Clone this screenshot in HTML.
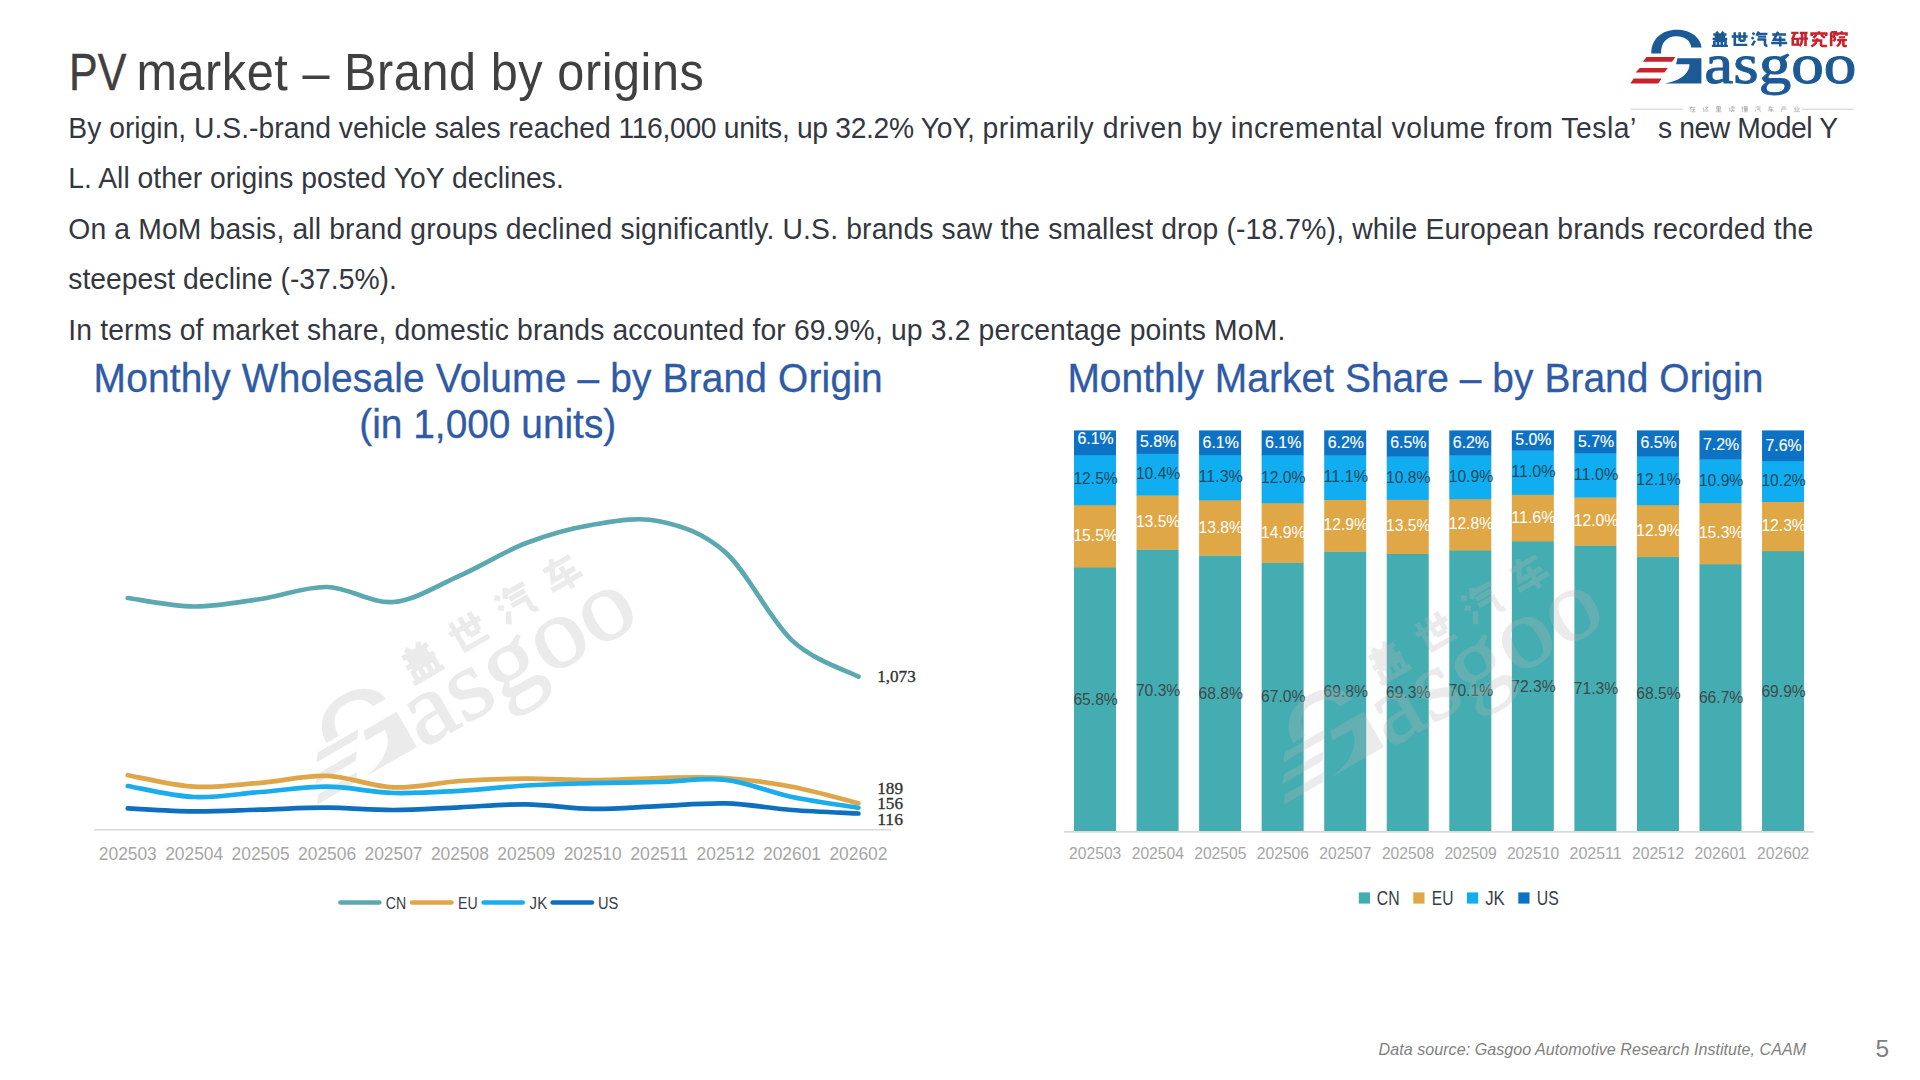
<!DOCTYPE html>
<html lang="en">
<head>
<meta charset="utf-8">
<title>PV market – Brand by origins</title>
<style>
html,body{margin:0;padding:0;background:#fff;}
body{width:1920px;height:1080px;position:relative;overflow:hidden;font-family:"Liberation Sans", sans-serif;}
.t{position:absolute;margin:0;padding:0;white-space:nowrap;line-height:1;font-weight:normal;}
svg{position:absolute;left:0;top:0;}
</style>
</head>
<body>
<svg id="art" width="1920" height="1080" viewBox="0 0 1920 1080">
<defs><symbol id="garc" overflow="visible"><path d="M31.3,33.4 C31.3,19 42,9.8 56.5,9.8 C70.5,9.8 80.6,17.5 81.6,27.4 L71.2,27.4 C70.6,20.6 64.6,16.3 56.2,16.3 C46.5,16.3 41,23 41,33.4 Z"/></symbol><symbol id="gbody" overflow="visible"><path d="M57.5,38.3 L81.4,38.3 L81.4,63.4 L44.9,63.4 C56,62 69.5,55.5 69.5,44.3 L56,44.3 Z"/></symbol><symbol id="stripes" overflow="visible"><path d="M26.6,37.1 L55.4,37.1 L52.1,41.7 L22.8,41.7 Z M19.8,47.9 L47.8,47.9 L44.4,52.5 L15.6,52.5 Z M13.6,58.6 L41.6,58.6 L38.3,63.4 L10.4,63.4 Z"/></symbol></defs>
<!-- logo -->
<g transform="translate(1620,20)"><use href="#garc" fill="#1c5a96"/><use href="#gbody" fill="#1c5a96"/><use href="#stripes" fill="#c8222b"/><text x="84.3" y="63.4" font-family='"Liberation Serif", serif' font-size="58" fill="#1c5a96" stroke="#1c5a96" stroke-width="1.0" textLength="152.2" lengthAdjust="spacingAndGlyphs">asgoo</text><g color="#1c5a96"><path transform="translate(91.20,11.00) scale(0.1740,0.1580)" d="M30,4L38,17M70,4L62,17M12,22H88M20,36H80M8,50H92M50,22V50M18,62H82V92M18,62V92M39,62V92M61,62V92M4,94H96" fill="none" stroke="currentColor" stroke-width="15" stroke-linecap="butt" stroke-linejoin="miter"/><path transform="translate(110.95,11.00) scale(0.1740,0.1580)" d="M4,35H96M22,8V88H94M50,8V62M78,8V62M50,62H78" fill="none" stroke="currentColor" stroke-width="15" stroke-linecap="butt" stroke-linejoin="miter"/><path transform="translate(130.70,11.00) scale(0.1740,0.1580)" d="M10,12L22,22M5,40L17,50M8,92L24,62M47,4L33,30M42,18H96M42,36H88M38,54H82V82Q82,93 96,93" fill="none" stroke="currentColor" stroke-width="15" stroke-linecap="butt" stroke-linejoin="miter"/><path transform="translate(150.45,11.00) scale(0.1740,0.1580)" d="M10,22H90M44,4L20,55H86M4,76H96M56,34V98" fill="none" stroke="currentColor" stroke-width="15" stroke-linecap="butt" stroke-linejoin="miter"/></g><g color="#c8222b"><path transform="translate(170.70,11.00) scale(0.1740,0.1580)" d="M3,12H45M25,12L8,55M12,50H40V86H12ZM52,12H97M48,48H99M65,12V60Q63,85 50,96M85,12V97" fill="none" stroke="currentColor" stroke-width="15" stroke-linecap="butt" stroke-linejoin="miter"/><path transform="translate(190.25,11.00) scale(0.1740,0.1580)" d="M50,2V12M8,32V16H92V32M36,24L18,44M62,24L84,44M10,60H62V86Q62,95 75,95H96M40,46Q40,80 6,97" fill="none" stroke="currentColor" stroke-width="15" stroke-linecap="butt" stroke-linejoin="miter"/><path transform="translate(209.80,11.00) scale(0.1740,0.1580)" d="M8,8V97M8,8H32L22,35Q38,50 20,64M68,2V12M42,30V16H96V30M52,40H88M42,58H98M60,58Q60,85 40,96M78,58V88Q78,95 88,95H98" fill="none" stroke="currentColor" stroke-width="15" stroke-linecap="butt" stroke-linejoin="miter"/></g><path d="M10.4,89.2H62.5M181.6,89.2H233.7" stroke="#c9c9c9" stroke-width="0.9" fill="none"/><g color="#9c9c9c"><path transform="translate(69.20,85.90) scale(0.0660,0.0640)" d="M5,25H95M40,5L10,60M25,45V95M45,55H90M67,40V90M40,92H95" fill="none" stroke="currentColor" stroke-width="9" stroke-linecap="butt" stroke-linejoin="miter"/><path transform="translate(82.25,85.90) scale(0.0660,0.0640)" d="M10,10L22,22M5,40H22V75M5,95Q15,80 25,80H95M40,22H92M80,22L45,70M52,35L88,70M62,5V15" fill="none" stroke="currentColor" stroke-width="9" stroke-linecap="butt" stroke-linejoin="miter"/><path transform="translate(95.30,85.90) scale(0.0660,0.0640)" d="M20,10H80V50H20ZM20,30H80M50,10V92M15,70H85M5,92H95" fill="none" stroke="currentColor" stroke-width="9" stroke-linecap="butt" stroke-linejoin="miter"/><path transform="translate(108.35,85.90) scale(0.0660,0.0640)" d="M8,12L20,22M5,40H22V85L30,75M40,15H92M65,5V28M38,30H95L88,42M50,45L58,52M48,58L56,65M35,72H95M68,40V72M65,72L40,95M70,78L95,95" fill="none" stroke="currentColor" stroke-width="9" stroke-linecap="butt" stroke-linejoin="miter"/><path transform="translate(121.40,85.90) scale(0.0660,0.0640)" d="M15,5V95M5,30L10,45M25,25L30,38M38,15H95M52,5V25M80,5V25M45,32H90V60H45ZM45,46H90M68,25V85M40,72H95M35,92H98" fill="none" stroke="currentColor" stroke-width="9" stroke-linecap="butt" stroke-linejoin="miter"/><path transform="translate(134.45,85.90) scale(0.0660,0.0640)" d="M10,12L22,22M5,40L17,50M8,92L24,62M47,4L33,30M42,18H96M42,36H88M38,54H82V82Q82,93 96,93" fill="none" stroke="currentColor" stroke-width="9" stroke-linecap="butt" stroke-linejoin="miter"/><path transform="translate(147.50,85.90) scale(0.0660,0.0640)" d="M10,22H90M44,4L20,55H86M4,76H96M56,34V98" fill="none" stroke="currentColor" stroke-width="9" stroke-linecap="butt" stroke-linejoin="miter"/><path transform="translate(160.55,85.90) scale(0.0660,0.0640)" d="M50,2V12M15,18H85M32,28L40,42M68,28L60,42M10,48H92M22,48Q22,80 5,95" fill="none" stroke="currentColor" stroke-width="9" stroke-linecap="butt" stroke-linejoin="miter"/><path transform="translate(173.60,85.90) scale(0.0660,0.0640)" d="M35,8V85M65,8V85M12,30L25,65M88,30L75,65M5,90H95" fill="none" stroke="currentColor" stroke-width="9" stroke-linecap="butt" stroke-linejoin="miter"/></g></g>
<!-- left chart: monthly wholesale volume -->
<g transform="translate(317.4,804.4) rotate(-30) scale(1.62)" fill="#ebebeb" color="#ebebeb" opacity="1"><g transform="translate(-10.4,-63.4)"><use href="#garc" transform="translate(57,33.4) scale(0.9,0.88) translate(-56.5,-33.4)"/><use href="#gbody"/><use href="#stripes" transform="translate(0,63.4) scale(1,1.05) translate(0,-63.4)"/><text x="83.6" y="66.2" font-family='"Liberation Serif", serif' font-size="62" stroke="#ebebeb" stroke-width="0.8" textLength="157" lengthAdjust="spacingAndGlyphs">asgoo</text><path transform="translate(98.10,6.60) scale(0.2350,0.2350)" d="M30,4L38,17M70,4L62,17M12,22H88M20,36H80M8,50H92M50,22V50M18,62H82V92M18,62V92M39,62V92M61,62V92M4,94H96" fill="none" stroke="currentColor" stroke-width="14" stroke-linecap="butt" stroke-linejoin="miter"/><path transform="translate(132.30,5.60) scale(0.2350,0.2350)" d="M4,35H96M22,8V88H94M50,8V62M78,8V62M50,62H78" fill="none" stroke="currentColor" stroke-width="14" stroke-linecap="butt" stroke-linejoin="miter"/><path transform="translate(166.50,4.60) scale(0.2350,0.2350)" d="M10,12L22,22M5,40L17,50M8,92L24,62M47,4L33,30M42,18H96M42,36H88M38,54H82V82Q82,93 96,93" fill="none" stroke="currentColor" stroke-width="14" stroke-linecap="butt" stroke-linejoin="miter"/><path transform="translate(200.70,3.60) scale(0.2350,0.2350)" d="M10,22H90M44,4L20,55H86M4,76H96M56,34V98" fill="none" stroke="currentColor" stroke-width="14" stroke-linecap="butt" stroke-linejoin="miter"/></g></g>
<line x1="94" y1="829.8" x2="891" y2="829.8" stroke="#d9d9d9" stroke-width="1.4"/>
<path d="M127.8,598.0C138.9,599.4 172.1,606.3 194.2,606.5C216.4,606.7 238.5,602.2 260.6,599.0C282.8,595.8 304.9,586.5 327.1,587.0C349.2,587.5 371.3,603.9 393.5,602.0C415.6,600.1 437.8,585.4 459.9,575.6C482.0,565.8 504.2,551.5 526.3,543.0C548.5,534.5 570.6,528.3 592.7,524.7C614.9,521.1 637.0,516.6 659.2,521.2C681.3,525.8 703.4,532.6 725.6,552.5C747.7,572.4 769.9,619.7 792.0,640.4C814.1,661.1 847.3,670.6 858.4,676.6" fill="none" stroke="#5ba8b0" stroke-width="4.7" stroke-linecap="round" stroke-linejoin="round"/>
<path d="M127.8,775.2C138.9,777.1 172.1,785.4 194.2,786.7C216.4,788.0 238.5,784.6 260.6,782.8C282.8,781.0 304.9,775.1 327.1,775.9C349.2,776.7 371.3,786.5 393.5,787.4C415.6,788.2 437.8,782.5 459.9,781.0C482.0,779.5 504.2,778.7 526.3,778.6C548.5,778.5 570.6,780.3 592.7,780.2C614.9,780.1 637.0,778.4 659.2,778.0C681.3,777.6 703.4,776.5 725.6,778.0C747.7,779.5 769.9,782.5 792.0,786.7C814.1,790.9 847.3,800.5 858.4,803.2" fill="none" stroke="#dfa649" stroke-width="4.7" stroke-linecap="round" stroke-linejoin="round"/>
<path d="M127.8,786.0C138.9,787.8 172.1,796.0 194.2,797.0C216.4,798.0 238.5,793.7 260.6,792.0C282.8,790.3 304.9,786.5 327.1,786.7C349.2,786.9 371.3,792.3 393.5,793.0C415.6,793.7 437.8,792.0 459.9,790.8C482.0,789.5 504.2,786.8 526.3,785.5C548.5,784.2 570.6,783.8 592.7,783.2C614.9,782.6 637.0,782.6 659.2,782.0C681.3,781.4 703.4,777.3 725.6,779.8C747.7,782.3 769.9,792.4 792.0,797.0C814.1,801.6 847.3,805.9 858.4,807.7" fill="none" stroke="#1badeb" stroke-width="4.7" stroke-linecap="round" stroke-linejoin="round"/>
<path d="M127.8,808.4C138.9,808.9 172.1,811.2 194.2,811.4C216.4,811.6 238.5,810.2 260.6,809.6C282.8,809.0 304.9,807.6 327.1,807.7C349.2,807.8 371.3,810.1 393.5,810.0C415.6,809.9 437.8,808.2 459.9,807.3C482.0,806.3 504.2,804.0 526.3,804.3C548.5,804.6 570.6,808.6 592.7,808.9C614.9,809.2 637.0,807.0 659.2,806.1C681.3,805.2 703.4,802.8 725.6,803.4C747.7,804.0 769.9,808.3 792.0,810.0C814.1,811.7 847.3,812.9 858.4,813.5" fill="none" stroke="#0f6fbf" stroke-width="4.7" stroke-linecap="round" stroke-linejoin="round"/>
<g font-family='"Liberation Sans", sans-serif' font-size="18.4" fill="#a6a6a6" text-anchor="middle">
<text x="127.8" y="859.6" textLength="58" lengthAdjust="spacingAndGlyphs">202503</text>
<text x="194.2" y="859.6" textLength="58" lengthAdjust="spacingAndGlyphs">202504</text>
<text x="260.6" y="859.6" textLength="58" lengthAdjust="spacingAndGlyphs">202505</text>
<text x="327.1" y="859.6" textLength="58" lengthAdjust="spacingAndGlyphs">202506</text>
<text x="393.5" y="859.6" textLength="58" lengthAdjust="spacingAndGlyphs">202507</text>
<text x="459.9" y="859.6" textLength="58" lengthAdjust="spacingAndGlyphs">202508</text>
<text x="526.3" y="859.6" textLength="58" lengthAdjust="spacingAndGlyphs">202509</text>
<text x="592.7" y="859.6" textLength="58" lengthAdjust="spacingAndGlyphs">202510</text>
<text x="659.2" y="859.6" textLength="58" lengthAdjust="spacingAndGlyphs">202511</text>
<text x="725.6" y="859.6" textLength="58" lengthAdjust="spacingAndGlyphs">202512</text>
<text x="792.0" y="859.6" textLength="58" lengthAdjust="spacingAndGlyphs">202601</text>
<text x="858.4" y="859.6" textLength="58" lengthAdjust="spacingAndGlyphs">202602</text>
</g>
<g font-family='"Liberation Serif", serif' font-size="17.3" fill="#333" stroke="#333" stroke-width="0.35">
<text x="877.2" y="681.6" textLength="38.5" lengthAdjust="spacingAndGlyphs">1,073</text>
<text x="877.2" y="793.6" textLength="25.8" lengthAdjust="spacingAndGlyphs">189</text>
<text x="877.2" y="808.5" textLength="25.8" lengthAdjust="spacingAndGlyphs">156</text>
<text x="877.2" y="825.2" textLength="25.8" lengthAdjust="spacingAndGlyphs">116</text>
</g>
<g font-family='"Liberation Sans", sans-serif' font-size="16.9" fill="#363c48">
<line x1="340.5" y1="902.5" x2="379.3" y2="902.5" stroke="#5ba8b0" stroke-width="4.7" stroke-linecap="round"/>
<text x="385.8" y="908.7" textLength="20.4" lengthAdjust="spacingAndGlyphs">CN</text>
<line x1="412.1" y1="902.5" x2="451.5" y2="902.5" stroke="#dfa649" stroke-width="4.7" stroke-linecap="round"/>
<text x="458.0" y="908.7" textLength="19.6" lengthAdjust="spacingAndGlyphs">EU</text>
<line x1="483.7" y1="902.5" x2="522.7" y2="902.5" stroke="#1badeb" stroke-width="4.7" stroke-linecap="round"/>
<text x="529.6" y="908.7" textLength="17.6" lengthAdjust="spacingAndGlyphs">JK</text>
<line x1="552.6999999999999" y1="902.5" x2="591.9000000000001" y2="902.5" stroke="#0f6fbf" stroke-width="4.7" stroke-linecap="round"/>
<text x="598.0" y="908.7" textLength="20.3" lengthAdjust="spacingAndGlyphs">US</text>
</g>
<!-- right chart: monthly market share -->
<rect x="1074.00" y="567.11" width="42.0" height="264.09" fill="#44adb1"/>
<rect x="1074.00" y="504.97" width="42.0" height="62.44" fill="#e0a747"/>
<rect x="1074.00" y="454.85" width="42.0" height="50.41" fill="#10adf0"/>
<rect x="1074.00" y="430.40" width="42.0" height="24.75" fill="#0d72c4"/>
<rect x="1136.55" y="549.35" width="42.0" height="281.85" fill="#44adb1"/>
<rect x="1136.55" y="495.28" width="42.0" height="54.37" fill="#e0a747"/>
<rect x="1136.55" y="453.63" width="42.0" height="41.95" fill="#10adf0"/>
<rect x="1136.55" y="430.40" width="42.0" height="23.53" fill="#0d72c4"/>
<rect x="1199.10" y="555.36" width="42.0" height="275.84" fill="#44adb1"/>
<rect x="1199.10" y="500.09" width="42.0" height="55.57" fill="#e0a747"/>
<rect x="1199.10" y="454.83" width="42.0" height="45.56" fill="#10adf0"/>
<rect x="1199.10" y="430.40" width="42.0" height="24.73" fill="#0d72c4"/>
<rect x="1261.65" y="562.56" width="42.0" height="268.64" fill="#44adb1"/>
<rect x="1261.65" y="502.89" width="42.0" height="59.97" fill="#e0a747"/>
<rect x="1261.65" y="454.83" width="42.0" height="48.36" fill="#10adf0"/>
<rect x="1261.65" y="430.40" width="42.0" height="24.73" fill="#0d72c4"/>
<rect x="1324.20" y="551.35" width="42.0" height="279.85" fill="#44adb1"/>
<rect x="1324.20" y="499.69" width="42.0" height="51.96" fill="#e0a747"/>
<rect x="1324.20" y="455.23" width="42.0" height="44.76" fill="#10adf0"/>
<rect x="1324.20" y="430.40" width="42.0" height="25.13" fill="#0d72c4"/>
<rect x="1386.75" y="553.63" width="42.0" height="277.57" fill="#44adb1"/>
<rect x="1386.75" y="499.62" width="42.0" height="54.31" fill="#e0a747"/>
<rect x="1386.75" y="456.41" width="42.0" height="43.51" fill="#10adf0"/>
<rect x="1386.75" y="430.40" width="42.0" height="26.31" fill="#0d72c4"/>
<rect x="1449.30" y="550.15" width="42.0" height="281.05" fill="#44adb1"/>
<rect x="1449.30" y="498.89" width="42.0" height="51.56" fill="#e0a747"/>
<rect x="1449.30" y="455.23" width="42.0" height="43.95" fill="#10adf0"/>
<rect x="1449.30" y="430.40" width="42.0" height="25.13" fill="#0d72c4"/>
<rect x="1511.85" y="541.05" width="42.0" height="290.15" fill="#44adb1"/>
<rect x="1511.85" y="494.54" width="42.0" height="46.80" fill="#e0a747"/>
<rect x="1511.85" y="450.45" width="42.0" height="44.40" fill="#10adf0"/>
<rect x="1511.85" y="430.40" width="42.0" height="20.35" fill="#0d72c4"/>
<rect x="1574.40" y="545.34" width="42.0" height="285.86" fill="#44adb1"/>
<rect x="1574.40" y="497.28" width="42.0" height="48.36" fill="#e0a747"/>
<rect x="1574.40" y="453.23" width="42.0" height="44.35" fill="#10adf0"/>
<rect x="1574.40" y="430.40" width="42.0" height="23.13" fill="#0d72c4"/>
<rect x="1636.95" y="556.56" width="42.0" height="274.64" fill="#44adb1"/>
<rect x="1636.95" y="504.89" width="42.0" height="51.96" fill="#e0a747"/>
<rect x="1636.95" y="456.43" width="42.0" height="48.76" fill="#10adf0"/>
<rect x="1636.95" y="430.40" width="42.0" height="26.33" fill="#0d72c4"/>
<rect x="1699.50" y="564.03" width="42.0" height="267.17" fill="#44adb1"/>
<rect x="1699.50" y="502.82" width="42.0" height="61.52" fill="#e0a747"/>
<rect x="1699.50" y="459.21" width="42.0" height="43.91" fill="#10adf0"/>
<rect x="1699.50" y="430.40" width="42.0" height="29.11" fill="#0d72c4"/>
<rect x="1762.05" y="550.95" width="42.0" height="280.25" fill="#44adb1"/>
<rect x="1762.05" y="501.69" width="42.0" height="49.56" fill="#e0a747"/>
<rect x="1762.05" y="460.84" width="42.0" height="41.15" fill="#10adf0"/>
<rect x="1762.05" y="430.40" width="42.0" height="30.74" fill="#0d72c4"/>
<line x1="1064" y1="831.9" x2="1814" y2="831.9" stroke="#d9d9d9" stroke-width="1.6"/>
<g font-family='"Liberation Sans", sans-serif' font-size="16.6" fill="#3f4a4c" text-anchor="middle">
<text x="1095.6" y="704.6" textLength="44.4" lengthAdjust="spacingAndGlyphs">65.8%</text>
<text x="1158.1" y="695.7" textLength="44.4" lengthAdjust="spacingAndGlyphs">70.3%</text>
<text x="1220.7" y="698.7" textLength="44.4" lengthAdjust="spacingAndGlyphs">68.8%</text>
<text x="1283.2" y="702.3" textLength="44.4" lengthAdjust="spacingAndGlyphs">67.0%</text>
<text x="1345.8" y="696.7" textLength="44.4" lengthAdjust="spacingAndGlyphs">69.8%</text>
<text x="1408.3" y="697.9" textLength="44.4" lengthAdjust="spacingAndGlyphs">69.3%</text>
<text x="1470.9" y="696.1" textLength="44.4" lengthAdjust="spacingAndGlyphs">70.1%</text>
<text x="1533.4" y="691.6" textLength="44.4" lengthAdjust="spacingAndGlyphs">72.3%</text>
<text x="1596.0" y="693.7" textLength="44.4" lengthAdjust="spacingAndGlyphs">71.3%</text>
<text x="1658.5" y="699.3" textLength="44.4" lengthAdjust="spacingAndGlyphs">68.5%</text>
<text x="1721.1" y="703.1" textLength="44.4" lengthAdjust="spacingAndGlyphs">66.7%</text>
<text x="1783.6" y="696.5" textLength="44.4" lengthAdjust="spacingAndGlyphs">69.9%</text>
</g>
<g font-family='"Liberation Sans", sans-serif' font-size="16.6" fill="#ffffff" text-anchor="middle">
<text x="1095.6" y="540.8" textLength="44.4" lengthAdjust="spacingAndGlyphs">15.5%</text>
<text x="1158.1" y="527.1" textLength="44.4" lengthAdjust="spacingAndGlyphs">13.5%</text>
<text x="1220.7" y="532.5" textLength="44.4" lengthAdjust="spacingAndGlyphs">13.8%</text>
<text x="1283.2" y="537.5" textLength="44.4" lengthAdjust="spacingAndGlyphs">14.9%</text>
<text x="1345.8" y="530.3" textLength="44.4" lengthAdjust="spacingAndGlyphs">12.9%</text>
<text x="1408.3" y="531.4" textLength="44.4" lengthAdjust="spacingAndGlyphs">13.5%</text>
<text x="1470.9" y="529.3" textLength="44.4" lengthAdjust="spacingAndGlyphs">12.8%</text>
<text x="1533.4" y="522.6" textLength="44.4" lengthAdjust="spacingAndGlyphs">11.6%</text>
<text x="1596.0" y="526.1" textLength="44.4" lengthAdjust="spacingAndGlyphs">12.0%</text>
<text x="1658.5" y="535.5" textLength="44.4" lengthAdjust="spacingAndGlyphs">12.9%</text>
<text x="1721.1" y="538.2" textLength="44.4" lengthAdjust="spacingAndGlyphs">15.3%</text>
<text x="1783.6" y="531.1" textLength="44.4" lengthAdjust="spacingAndGlyphs">12.3%</text>
</g>
<g font-family='"Liberation Sans", sans-serif' font-size="16.6" fill="#1f4a5e" text-anchor="middle">
<text x="1095.6" y="484.4" textLength="44.4" lengthAdjust="spacingAndGlyphs">12.5%</text>
<text x="1158.1" y="479.0" textLength="44.4" lengthAdjust="spacingAndGlyphs">10.4%</text>
<text x="1220.7" y="482.0" textLength="44.4" lengthAdjust="spacingAndGlyphs">11.3%</text>
<text x="1283.2" y="483.4" textLength="44.4" lengthAdjust="spacingAndGlyphs">12.0%</text>
<text x="1345.8" y="482.0" textLength="44.4" lengthAdjust="spacingAndGlyphs">11.1%</text>
<text x="1408.3" y="482.5" textLength="44.4" lengthAdjust="spacingAndGlyphs">10.8%</text>
<text x="1470.9" y="481.6" textLength="44.4" lengthAdjust="spacingAndGlyphs">10.9%</text>
<text x="1533.4" y="477.0" textLength="44.4" lengthAdjust="spacingAndGlyphs">11.0%</text>
<text x="1596.0" y="479.8" textLength="44.4" lengthAdjust="spacingAndGlyphs">11.0%</text>
<text x="1658.5" y="485.2" textLength="44.4" lengthAdjust="spacingAndGlyphs">12.1%</text>
<text x="1721.1" y="485.5" textLength="44.4" lengthAdjust="spacingAndGlyphs">10.9%</text>
<text x="1783.6" y="485.8" textLength="44.4" lengthAdjust="spacingAndGlyphs">10.2%</text>
</g>
<g font-family='"Liberation Sans", sans-serif' font-size="16.6" fill="#ffffff" text-anchor="middle" stroke="#fff" stroke-width="0.15">
<text x="1095.6" y="444.2" textLength="36.2" lengthAdjust="spacingAndGlyphs">6.1%</text>
<text x="1158.1" y="447.0" textLength="36.2" lengthAdjust="spacingAndGlyphs">5.8%</text>
<text x="1220.7" y="447.6" textLength="36.2" lengthAdjust="spacingAndGlyphs">6.1%</text>
<text x="1283.2" y="447.6" textLength="36.2" lengthAdjust="spacingAndGlyphs">6.1%</text>
<text x="1345.8" y="447.8" textLength="36.2" lengthAdjust="spacingAndGlyphs">6.2%</text>
<text x="1408.3" y="448.4" textLength="36.2" lengthAdjust="spacingAndGlyphs">6.5%</text>
<text x="1470.9" y="447.8" textLength="36.2" lengthAdjust="spacingAndGlyphs">6.2%</text>
<text x="1533.4" y="445.4" textLength="36.2" lengthAdjust="spacingAndGlyphs">5.0%</text>
<text x="1596.0" y="446.8" textLength="36.2" lengthAdjust="spacingAndGlyphs">5.7%</text>
<text x="1658.5" y="448.4" textLength="36.2" lengthAdjust="spacingAndGlyphs">6.5%</text>
<text x="1721.1" y="449.8" textLength="36.2" lengthAdjust="spacingAndGlyphs">7.2%</text>
<text x="1783.6" y="450.6" textLength="36.2" lengthAdjust="spacingAndGlyphs">7.6%</text>
</g>
<g font-family='"Liberation Sans", sans-serif' font-size="16.6" fill="#a6a6a6" text-anchor="middle">
<text x="1095.2" y="858.6" textLength="52.2" lengthAdjust="spacingAndGlyphs">202503</text>
<text x="1157.8" y="858.6" textLength="52.2" lengthAdjust="spacingAndGlyphs">202504</text>
<text x="1220.3" y="858.6" textLength="52.2" lengthAdjust="spacingAndGlyphs">202505</text>
<text x="1282.9" y="858.6" textLength="52.2" lengthAdjust="spacingAndGlyphs">202506</text>
<text x="1345.4" y="858.6" textLength="52.2" lengthAdjust="spacingAndGlyphs">202507</text>
<text x="1408.0" y="858.6" textLength="52.2" lengthAdjust="spacingAndGlyphs">202508</text>
<text x="1470.5" y="858.6" textLength="52.2" lengthAdjust="spacingAndGlyphs">202509</text>
<text x="1533.0" y="858.6" textLength="52.2" lengthAdjust="spacingAndGlyphs">202510</text>
<text x="1595.6" y="858.6" textLength="52.2" lengthAdjust="spacingAndGlyphs">202511</text>
<text x="1658.1" y="858.6" textLength="52.2" lengthAdjust="spacingAndGlyphs">202512</text>
<text x="1720.7" y="858.6" textLength="52.2" lengthAdjust="spacingAndGlyphs">202601</text>
<text x="1783.2" y="858.6" textLength="52.2" lengthAdjust="spacingAndGlyphs">202602</text>
</g>
<g font-family='"Liberation Sans", sans-serif' font-size="19.8" fill="#363c48">
<rect x="1358.8" y="892.4" width="11.2" height="11.2" fill="#44adb1"/>
<text x="1376.8" y="905.1" textLength="22.8" lengthAdjust="spacingAndGlyphs">CN</text>
<rect x="1413.3" y="892.4" width="11.2" height="11.2" fill="#e0a747"/>
<text x="1431.8" y="905.1" textLength="21.6" lengthAdjust="spacingAndGlyphs">EU</text>
<rect x="1467" y="892.4" width="11.2" height="11.2" fill="#10adf0"/>
<text x="1485.2" y="905.1" textLength="19.6" lengthAdjust="spacingAndGlyphs">JK</text>
<rect x="1518.3" y="892.4" width="11.2" height="11.2" fill="#0d72c4"/>
<text x="1536.8" y="905.1" textLength="22.0" lengthAdjust="spacingAndGlyphs">US</text>
</g>
<g transform="translate(1284.2,804.4) rotate(-30) scale(1.62)" fill="#b6b6b6" color="#b6b6b6" opacity="0.27"><g transform="translate(-10.4,-63.4)"><use href="#garc" transform="translate(57,33.4) scale(0.9,0.88) translate(-56.5,-33.4)"/><use href="#gbody"/><use href="#stripes" transform="translate(0,63.4) scale(1,1.05) translate(0,-63.4)"/><text x="83.6" y="66.2" font-family='"Liberation Serif", serif' font-size="62" stroke="#b6b6b6" stroke-width="0.8" textLength="157" lengthAdjust="spacingAndGlyphs">asgoo</text><path transform="translate(98.10,6.60) scale(0.2350,0.2350)" d="M30,4L38,17M70,4L62,17M12,22H88M20,36H80M8,50H92M50,22V50M18,62H82V92M18,62V92M39,62V92M61,62V92M4,94H96" fill="none" stroke="currentColor" stroke-width="14" stroke-linecap="butt" stroke-linejoin="miter"/><path transform="translate(132.30,5.60) scale(0.2350,0.2350)" d="M4,35H96M22,8V88H94M50,8V62M78,8V62M50,62H78" fill="none" stroke="currentColor" stroke-width="14" stroke-linecap="butt" stroke-linejoin="miter"/><path transform="translate(166.50,4.60) scale(0.2350,0.2350)" d="M10,12L22,22M5,40L17,50M8,92L24,62M47,4L33,30M42,18H96M42,36H88M38,54H82V82Q82,93 96,93" fill="none" stroke="currentColor" stroke-width="14" stroke-linecap="butt" stroke-linejoin="miter"/><path transform="translate(200.70,3.60) scale(0.2350,0.2350)" d="M10,22H90M44,4L20,55H86M4,76H96M56,34V98" fill="none" stroke="currentColor" stroke-width="14" stroke-linecap="butt" stroke-linejoin="miter"/></g></g>
</svg>
<h1 id="title" class="t" style="left:69.2px;top:48.76px;font-size:48.6px;color:#404040;transform-origin:0 41.14px;transform:scale(0.8850,1.0617);-webkit-text-stroke:0.4px #404040;">PV</h1>
<h1 id="title2" class="t" style="left:136.4px;top:48.76px;font-size:48.6px;color:#404040;letter-spacing:0.576px;transform-origin:0 41.14px;transform:scaleY(1.0617);">market – Brand by origins</h1>
<p id="l1a" class="t" style="left:68.3px;top:113.84px;font-size:28.3px;color:#34373f;letter-spacing:-0.003px;transform-origin:0 23.96px;transform:scaleY(1.0580);">By origin, U.S.-brand vehicle sales reached</p>
<p id="l1b" class="t" style="left:618.4px;top:113.84px;font-size:28.3px;color:#34373f;letter-spacing:-0.333px;transform-origin:0 23.96px;transform:scaleY(1.0580);">116,000 units, up 32.2% YoY,</p>
<p id="l1c" class="t" style="left:982.4px;top:113.84px;font-size:28.3px;color:#34373f;letter-spacing:0.552px;transform-origin:0 23.96px;transform:scaleY(1.0580);">primarily driven by incremental volume from Tesla’</p>
<p id="l1d" class="t" style="left:1658.0px;top:113.84px;font-size:28.3px;color:#34373f;letter-spacing:-0.423px;transform-origin:0 23.96px;transform:scaleY(1.0580);">s new Model Y</p>
<p id="l2" class="t" style="left:68.3px;top:164.24px;font-size:28.3px;color:#34373f;letter-spacing:0.012px;transform-origin:0 23.96px;transform:scaleY(1.0580);">L. All other origins posted YoY declines.</p>
<p id="l3" class="t" style="left:68.3px;top:214.64px;font-size:28.3px;color:#34373f;letter-spacing:0.150px;transform-origin:0 23.96px;transform:scaleY(1.0580);">On a MoM basis, all brand groups declined significantly. U.S. brands saw the smallest drop (-18.7%), while European brands recorded the</p>
<p id="l4" class="t" style="left:68.3px;top:265.14px;font-size:28.3px;color:#34373f;letter-spacing:-0.009px;transform-origin:0 23.96px;transform:scaleY(1.0580);">steepest decline (-37.5%).</p>
<p id="l5" class="t" style="left:68.3px;top:315.54px;font-size:28.3px;color:#34373f;letter-spacing:0.151px;transform-origin:0 23.96px;transform:scaleY(1.0580);">In terms of market share, domestic brands accounted for 69.9%, up 3.2 percentage points MoM.</p>
<h2 id="ct1a" class="t" style="left:93.6px;top:360.27px;font-size:38.9px;color:#2f5aa5;letter-spacing:0.158px;transform-origin:0 32.93px;transform:scaleY(1.0369);-webkit-text-stroke:0.3px #2f5aa5;">Monthly Wholesale Volume – by Brand Origin</h2>
<h2 id="ct1b" class="t" style="left:359.3px;top:405.67px;font-size:38.9px;color:#2f5aa5;letter-spacing:-0.018px;transform-origin:0 32.93px;transform:scaleY(1.0369);-webkit-text-stroke:0.3px #2f5aa5;">(in 1,000 units)</h2>
<h2 id="ct2" class="t" style="left:1067.4px;top:360.27px;font-size:38.9px;color:#2f5aa5;letter-spacing:0.057px;transform-origin:0 32.93px;transform:scaleY(1.0369);-webkit-text-stroke:0.3px #2f5aa5;">Monthly Market Share – by Brand Origin</h2>
<p id="src" class="t" style="left:1378.6px;top:1040.67px;font-size:16.1px;color:#7f7f7f;letter-spacing:0.026px;transform-origin:0 13.63px;transform:scaleY(1.0563);font-style:italic;">Data source: Gasgoo Automotive Research Institute, CAAM</p>
<p id="pg" class="t" style="left:1875.5px;top:1036.86px;font-size:24.5px;color:#7f7f7f;">5</p>
</body>
</html>
